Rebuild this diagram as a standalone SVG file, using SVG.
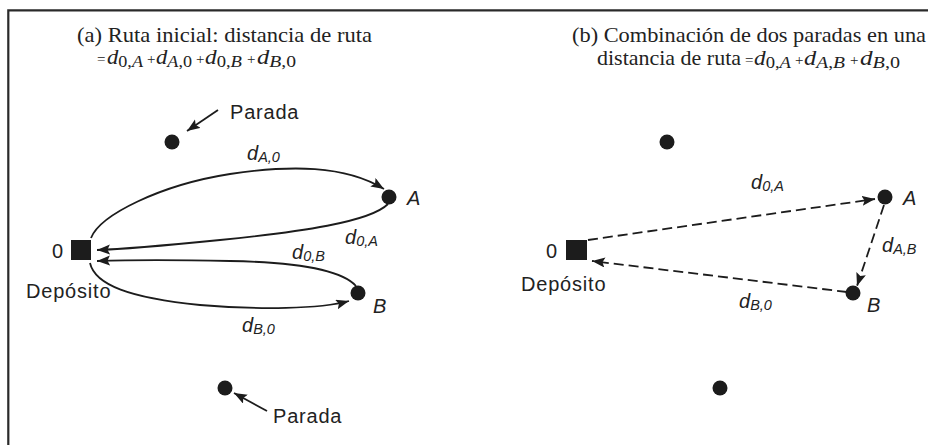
<svg xmlns="http://www.w3.org/2000/svg" width="928" height="445" viewBox="0 0 928 445">
  <style>
    .title { font-family: "Liberation Serif", "Times New Roman", serif; font-size: 22px; fill: #222; }
    .math { font-family: "Liberation Serif", "Times New Roman", serif; fill: #222; font-size: 20px; }
    .mi { font-style: italic; }
    .ms { font-size: 16px; }
    .op { font-family: "Liberation Serif", "Times New Roman", serif; fill: #222; font-size: 15px; }
    .lbl { font-family: "Liberation Sans", Arial, sans-serif; font-size: 20px; letter-spacing: 0.8px; fill: #222; }
    .it { font-family: "Liberation Sans", Arial, sans-serif; font-style: italic; font-size: 20px; fill: #222; }
    .sub { font-size: 14.5px; }
    .dot { fill: #1c1c1c; }
    .depot { fill: #1c1c1c; }
    .edge { fill: none; stroke: #1c1c1c; stroke-width: 1.8; }
    .dash { stroke-dasharray: 10 5; }
    .frame { fill: none; stroke: #2a2a2a; stroke-width: 2.2; }
  </style>
  <defs>
    <marker id="arrow" markerUnits="userSpaceOnUse" markerWidth="15" markerHeight="11" refX="13" refY="5" orient="auto">
      <path d="M0,0 L13,5 L0,10 L2.5,5 z" fill="#1c1c1c"/>
    </marker>
  </defs>

  <rect width="928" height="445" fill="#ffffff"/>

  <!-- frame: top and left rules -->
  <path class="frame" d="M8.3,445 L8.3,10.3 L928,10.3"/>

  <!-- panel (a) heading -->
  <g id="title-a">
    <text class="title" x="77" y="42" textLength="295" lengthAdjust="spacingAndGlyphs">(a) Ruta inicial: distancia de ruta</text>
    <text class="op" x="97" y="64">=</text>
    <text class="math" x="107" y="64" textLength="36" lengthAdjust="spacingAndGlyphs"><tspan class="mi">d</tspan><tspan class="ms" dy="3">0,<tspan font-style="italic">A</tspan></tspan></text>
    <text class="op" x="147" y="64">+</text>
    <text class="math" x="156" y="64" textLength="36" lengthAdjust="spacingAndGlyphs"><tspan class="mi">d</tspan><tspan class="ms" dy="3"><tspan font-style="italic">A</tspan>,0</tspan></text>
    <text class="op" x="196" y="64">+</text>
    <text class="math" x="205" y="64" textLength="37" lengthAdjust="spacingAndGlyphs"><tspan class="mi">d</tspan><tspan class="ms" dy="3">0,<tspan font-style="italic">B</tspan></tspan></text>
    <text class="op" x="247" y="64">+</text>
    <text class="math" x="257" y="64" textLength="39" lengthAdjust="spacingAndGlyphs"><tspan class="mi">d</tspan><tspan class="ms" dy="3"><tspan font-style="italic">B</tspan>,0</tspan></text>
  </g>

  <!-- panel (b) heading -->
  <g id="title-b">
    <text class="title" x="572" y="42" textLength="354" lengthAdjust="spacingAndGlyphs">(b) Combinación de dos paradas en una</text>
    <text class="title" x="597" y="65" textLength="144" lengthAdjust="spacingAndGlyphs">distancia de ruta</text>
    <text class="op" x="745" y="65">=</text>
    <text class="math" x="754" y="65" textLength="37" lengthAdjust="spacingAndGlyphs"><tspan class="mi">d</tspan><tspan class="ms" dy="3">0,<tspan font-style="italic">A</tspan></tspan></text>
    <text class="op" x="795" y="65">+</text>
    <text class="math" x="804" y="65" textLength="41" lengthAdjust="spacingAndGlyphs"><tspan class="mi">d</tspan><tspan class="ms" dy="3"><tspan font-style="italic">A</tspan>,<tspan font-style="italic">B</tspan></tspan></text>
    <text class="op" x="850" y="65">+</text>
    <text class="math" x="860" y="65" textLength="40" lengthAdjust="spacingAndGlyphs"><tspan class="mi">d</tspan><tspan class="ms" dy="3"><tspan font-style="italic">B</tspan>,0</tspan></text>
  </g>

  <!-- connectors -->
  <g id="connectors">
    <!-- panel (a): two separate round trips -->
    <path class="edge" marker-end="url(#arrow)" d="M91,238 C100,215 160,185 230,174 C290,165 345,165 384,189"/>
    <path class="edge" marker-end="url(#arrow)" d="M388,204 C370,222 300,232 220,240 C170,245 130,249 97,250"/>
    <path class="edge" marker-end="url(#arrow)" d="M356,286 C340,268 290,262 230,261 C180,260 130,260 97,261"/>
    <path class="edge" marker-end="url(#arrow)" d="M90,263 C95,285 130,298 200,305 C260,310 320,309 349,301"/>
    <!-- pointer arrows to the stop callouts -->
    <path class="edge" marker-end="url(#arrow)" d="M218,110 L187,131"/>
    <path class="edge" marker-end="url(#arrow)" d="M267,411 L234,393"/>
    <!-- panel (b): combined tour -->
    <path class="edge dash" marker-end="url(#arrow)" d="M588,240 L875,199"/>
    <path class="edge dash" marker-end="url(#arrow)" d="M884,205 L857,286"/>
    <path class="edge dash" marker-end="url(#arrow)" d="M847,292 L592,261"/>
  </g>

  <!-- panel (a) nodes -->
  <g id="a-depot">
    <rect class="depot" x="71" y="240" width="20" height="20"/>
    <text class="lbl" x="52" y="258">0</text>
    <text class="lbl" x="26" y="298">Depósito</text>
  </g>
  <g id="a-stop-top">
    <circle class="dot" cx="172" cy="142" r="7.5"/>
    <text class="lbl" x="230" y="119">Parada</text>
  </g>
  <g id="a-stop-A">
    <circle class="dot" cx="389" cy="197" r="7.5"/>
    <text class="it" x="407" y="205">A</text>
  </g>
  <g id="a-stop-B">
    <circle class="dot" cx="358" cy="293" r="7.5"/>
    <text class="it" x="373" y="313">B</text>
  </g>
  <g id="a-stop-bottom">
    <circle class="dot" cx="225" cy="388" r="7.5"/>
    <text class="lbl" x="273" y="423">Parada</text>
  </g>

  <!-- panel (a) edge labels -->
  <g id="a-labels">
    <text class="it" x="247" y="160">d<tspan class="sub" dy="2">A,0</tspan></text>
    <text class="it" x="345" y="244">d<tspan class="sub" dy="2">0,A</tspan></text>
    <text class="it" x="292" y="259">d<tspan class="sub" dy="2">0,B</tspan></text>
    <text class="it" x="242" y="332">d<tspan class="sub" dy="2">B,0</tspan></text>
  </g>

  <!-- panel (b) nodes -->
  <g id="b-depot">
    <rect class="depot" x="566" y="240" width="21" height="20"/>
    <text class="lbl" x="546" y="258">0</text>
    <text class="lbl" x="521" y="291">Depósito</text>
  </g>
  <g id="b-stop-top">
    <circle class="dot" cx="667" cy="142" r="7.5"/>
  </g>
  <g id="b-stop-A">
    <circle class="dot" cx="885" cy="197" r="7.5"/>
    <text class="it" x="903" y="205">A</text>
  </g>
  <g id="b-stop-B">
    <circle class="dot" cx="853" cy="293" r="7.5"/>
    <text class="it" x="867" y="312">B</text>
  </g>
  <g id="b-stop-bottom">
    <circle class="dot" cx="720" cy="388" r="7.5"/>
  </g>

  <!-- panel (b) edge labels -->
  <g id="b-labels">
    <text class="it" x="751" y="189">d<tspan class="sub" dy="2">0,A</tspan></text>
    <text class="it" x="882" y="252">d<tspan class="sub" dy="2">A,B</tspan></text>
    <text class="it" x="739" y="308">d<tspan class="sub" dy="2">B,0</tspan></text>
  </g>
</svg>
